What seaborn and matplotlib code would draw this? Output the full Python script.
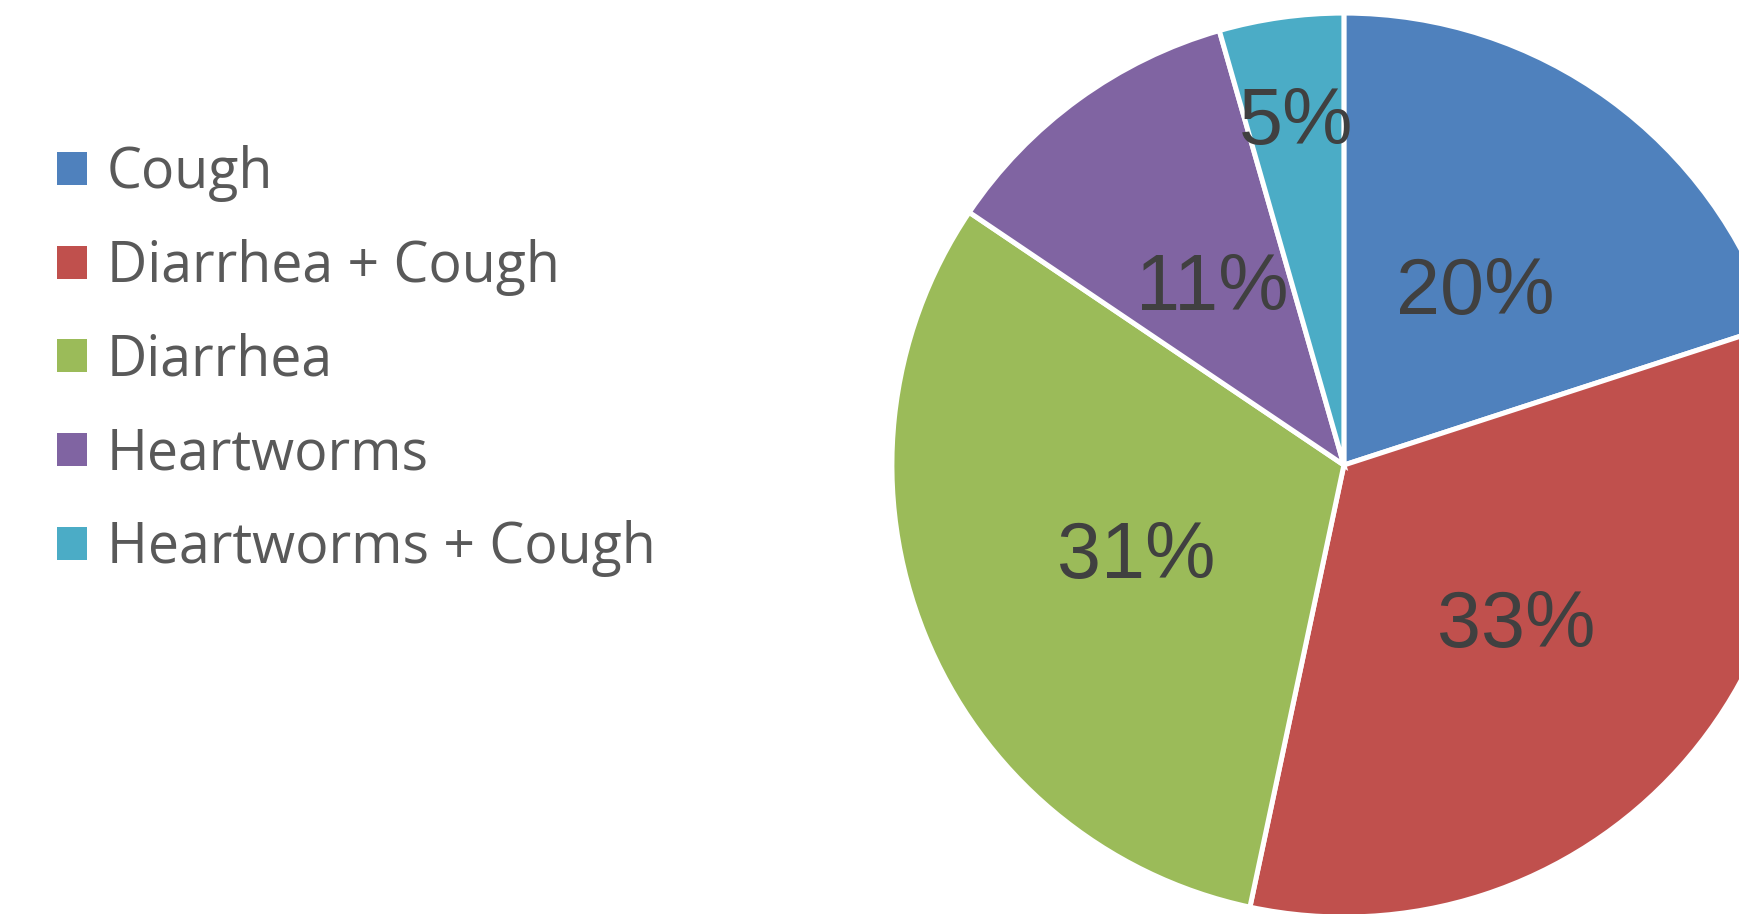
import numpy as np
import matplotlib
matplotlib.use('Agg')
import matplotlib.pyplot as plt
from matplotlib.patches import Patch
import seaborn as sns

# ========== data ==========
categories = ['Cough', 'Diarrhea + Cough', 'Diarrhea', 'Heartworms', 'Heartworms + Cough']
counts = [9, 15, 14, 5, 2]
colors = ['#4F81BD', '#C0504D', '#9BBB59', '#8064A2', '#4BACC6']
label_r = [0.49, 0.51, 0.5, 0.5, 0.78]

# percentages rounded so they add up to 100 (largest remainder)
raw = np.array(counts) / sum(counts) * 100
pct = np.floor(raw).astype(int)
order = np.argsort(-(raw - pct))
for i in order[:100 - pct.sum()]:
    pct[i] += 1

sns.set_theme(style='white')
palette = sns.color_palette(colors)

fig = plt.figure(figsize=(17.4, 9.14), dpi=100)
ax = fig.add_axes([0.5126, -0.0033, 0.5195, 0.989])

wedges, _ = ax.pie(counts, colors=palette, startangle=90, counterclock=False,
                   wedgeprops=dict(edgecolor='white', linewidth=3.6))
ax.set_xlim(-1, 1)
ax.set_ylim(-1, 1)
ax.set_aspect('equal')
ax.axis('off')

for w, p, r in zip(wedges, pct, label_r):
    th = np.deg2rad((w.theta1 + w.theta2) / 2)
    ax.annotate(f'{p}%', xy=(r * np.cos(th), r * np.sin(th)),
                xytext=(1, -5.5), textcoords='offset points',
                ha='center', va='center',
                fontsize=57, color='#404040', family='Liberation Sans')

handles = [Patch(facecolor=c, edgecolor='none') for c in palette]
fig.legend(handles, categories, loc='center left', bbox_to_anchor=(0.0328, 0.605),
           frameon=False, borderpad=0, borderaxespad=0,
           prop={'family': 'Open Sans', 'size': 40},
           handlelength=0.54, handleheight=0.54, handletextpad=0.36,
           labelspacing=0.66, labelcolor='#595959')

fig.savefig('out.png', dpi=100)
